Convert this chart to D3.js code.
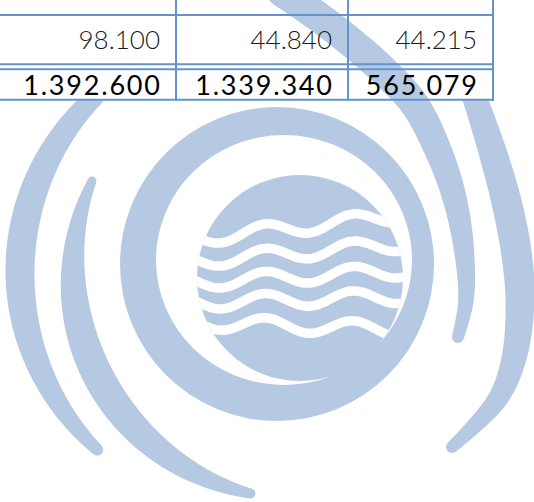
<!DOCTYPE html>
<html>
<head>
<meta charset="utf-8">
<script src="https://cdn.jsdelivr.net/npm/d3@7"></script>
<style>
html, body { margin: 0; padding: 0; background: #fff; }
svg { display: block; }
</style>
</head>
<body>
<svg id="chart"></svg>
<script>
// table values (only the bottom of the table is visible)
var columns = ["c1", "c2", "c3"];
var rowValues = [98100, 44840, 44215];
var totalValues = [1392600, 1339340, 565079];

var W = 534, H = 502;
var logoBlue = "#b6c9e3";
var lineBlue = "#6592cc";

var svg = d3.select("#chart").attr("width", W).attr("height", H);
var defs = svg.append("defs");

// number format with dots as thousands separator
var fmt = d3.formatLocale({decimal: ",", thousands: ".", grouping: [3], currency: ["", ""]}).format(",d");

// ---------- watermark logo ----------
var logo = svg.append("g");

// clip for the outer arcs (they stop under the table)
defs.append("clipPath").attr("id", "belowTable")
    .append("rect").attr("x", 0).attr("y", 99).attr("width", W).attr("height", H);

// disc clip for the waves
var disc = {cx: 300, cy: 278, r: 103};
defs.append("clipPath").attr("id", "discClip")
    .append("circle").attr("cx", disc.cx).attr("cy", disc.cy).attr("r", disc.r);

// big ring: outer circle minus an offset white ellipse
logo.append("circle").attr("cx", 277).attr("cy", 264).attr("r", 157).attr("fill", logoBlue);
logo.append("ellipse").attr("cx", 284).attr("cy", 260).attr("rx", 128).attr("ry", 125).attr("fill", "#fff");
logo.append("circle").attr("cx", disc.cx).attr("cy", disc.cy).attr("r", disc.r).attr("fill", logoBlue);

// waves
var waves = [
    {yL: 240, yR: 214},
    {yL: 262, yR: 243},
    {yL: 283, yR: 270},
    {yL: 303, yR: 296},
    {yL: 322, yR: 330}
];
var waveLine = d3.line();
logo.append("g").attr("clip-path", "url(#discClip)")
    .selectAll("path").data(waves).enter().append("path")
    .attr("d", function(d) {
        var pts = [];
        for (var x = 185; x <= 415; x += 2) {
            var f = (x - 185) / 230;
            pts.push([x, d.yL + (d.yR - d.yL) * f + 7 * Math.sin(2 * Math.PI * (x - 185) / 88 - 1.0)]);
        }
        return waveLine(pts);
    })
    .attr("fill", "none").attr("stroke", "#fff").attr("stroke-width", 9.5).attr("stroke-linecap", "round");

// arcs around the ring
function arcPts(cx, cy, r, a0, a1) {
    var pts = [];
    for (var i = 0; i <= 30; i++) {
        var a = (a0 + (a1 - a0) * i / 30) * Math.PI / 180;
        pts.push([cx + r * Math.cos(a), cy + r * Math.sin(a)]);
    }
    return pts;
}

var bands = [
    {name: "A", pts: arcPts(263, 272, 243, 226, 133), w0: 19, wm: 29, w1: 12, clip: true},
    {name: "B", pts: arcPts(300, 272, 227, 203.6, 102.6), w0: 9, wm: 31, w1: 10, clip: false},
    {name: "E", pts: [[282, -8], [320, 18], [352, 43], [385, 72], [415, 105], [440, 155], [455, 200], [464, 250], [466, 300], [458, 337]], w0: 30, wm: 28, w1: 12, clip: false},
    {name: "F", pts: [[472, 90], [492, 150], [506, 200], [516, 250], [520, 300], [514, 358], [497, 400], [452, 447]], w0: 24, wm: 30, w1: 12, clip: true}
];

function bandShape(b) {
    var tmp = svg.append("path")
        .attr("d", d3.line().curve(d3.curveCatmullRom.alpha(0.5))(b.pts))
        .attr("fill", "none");
    var node = tmp.node(), len = node.getTotalLength();
    var n = 160, left = [], right = [];
    for (var i = 0; i <= n; i++) {
        var t = i / n;
        var p = node.getPointAtLength(t * len);
        var q1 = node.getPointAtLength(Math.min(len, t * len + 0.5));
        var q0 = node.getPointAtLength(Math.max(0, t * len - 0.5));
        var dx = q1.x - q0.x, dy = q1.y - q0.y, d = Math.hypot(dx, dy);
        var nx = -dy / d, ny = dx / d;
        var w = (b.w0 * (1 - t) + b.w1 * t + (b.wm - (b.w0 + b.w1) / 2) * Math.sin(Math.PI * t)) / 2;
        left.push([p.x + nx * w, p.y + ny * w]);
        right.push([p.x - nx * w, p.y - ny * w]);
    }
    var s = node.getPointAtLength(0), e = node.getPointAtLength(len);
    tmp.remove();
    return {poly: left.concat(right.reverse()), s: [s.x, s.y], e: [e.x, e.y]};
}

bands.forEach(function(b) {
    var sh = bandShape(b);
    var g = logo.append("g");
    if (b.clip) g.attr("clip-path", "url(#belowTable)");
    g.append("path").attr("d", d3.line().curve(d3.curveLinearClosed)(sh.poly)).attr("fill", logoBlue);
    g.append("circle").attr("cx", sh.s[0]).attr("cy", sh.s[1]).attr("r", b.w0 / 2).attr("fill", logoBlue);
    g.append("circle").attr("cx", sh.e[0]).attr("cy", sh.e[1]).attr("r", b.w1 / 2).attr("fill", logoBlue);
});

// ---------- table ----------
var colEdge = d3.scaleOrdinal().domain(columns).range([176, 348, 493]);
var table = svg.append("g");

// horizontal rules
[15, 64.2, 69.2, 99.7].forEach(function(y) {
    table.append("line").attr("x1", 0).attr("x2", 494).attr("y1", y).attr("y2", y)
        .attr("stroke", lineBlue).attr("stroke-width", 2);
});
// vertical rules
table.selectAll("line.v").data(columns).enter().append("line").attr("class", "v")
    .attr("x1", function(d) { return colEdge(d); })
    .attr("x2", function(d) { return colEdge(d); })
    .attr("y1", 0).attr("y2", 100.7)
    .attr("stroke", lineBlue).attr("stroke-width", 2);

table.selectAll("text.row").data(rowValues).enter().append("text").attr("class", "row")
    .attr("x", function(d, i) { return colEdge(columns[i]) - 16; })
    .attr("y", 49)
    .attr("text-anchor", "end")
    .style("font-family", "Lato, 'Open Sans', sans-serif")
    .style("font-weight", 300)
    .style("font-size", "26px")
    .attr("fill", "#1a1a1a")
    .text(function(d) { return fmt(d); });

table.selectAll("text.total").data(totalValues).enter().append("text").attr("class", "total")
    .attr("x", function(d, i) { return colEdge(columns[i]) - 16 + 1.8; })
    .attr("y", 95)
    .attr("text-anchor", "end")
    .style("font-family", "Lato, 'Open Sans', sans-serif")
    .style("font-weight", 400)
    .style("font-size", "27px")
    .style("letter-spacing", "1.8px")
    .attr("fill", "#000")
    .text(function(d) { return fmt(d); });
</script>
</body>
</html>
